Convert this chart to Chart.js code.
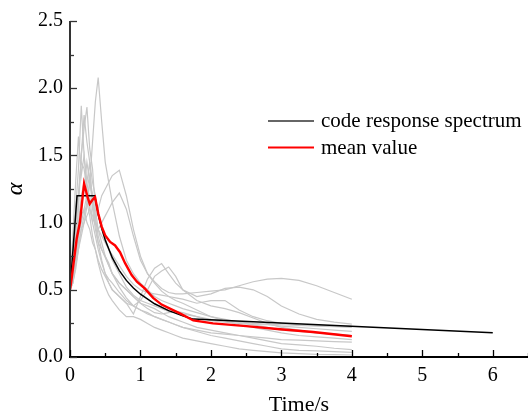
<!DOCTYPE html>
<html>
<head>
<meta charset="utf-8">
<script src="https://cdn.jsdelivr.net/npm/chart.js@4/dist/chart.umd.min.js"></script>
<style>
  html, body { margin: 0; padding: 0; background: #fff; }
  #c { display: block; }
</style>
</head>
<body>
<canvas id="c" width="528" height="414" style="width:528px;height:414px"></canvas>
<script>
// Periods (s) at which the individual record spectra are sampled
const periods = [0, 0.04, 0.08, 0.12, 0.16, 0.2, 0.24, 0.28, 0.32, 0.36, 0.4, 0.45, 0.5, 0.55, 0.6,
  0.7, 0.8, 0.9, 1.0, 1.1, 1.2, 1.3, 1.4, 1.5, 1.6, 1.8, 2.0, 2.2, 2.4, 2.6, 2.8, 3.0, 3.25, 3.5, 3.75, 4.0];

// Dynamic amplification factor of each selected ground-motion record
const record01 = [0.5,0.55,0.68,0.8,0.9,1.0,1.12,1.3,1.6,1.9,2.08,1.75,1.45,1.3,1.15,0.9,0.72,0.62,0.55,0.5,0.45,0.42,0.4,0.38,0.36,0.33,0.3,0.28,0.26,0.24,0.22,0.2,0.19,0.18,0.17,0.16];
const record02 = [0.5,0.75,1.1,1.4,1.87,1.5,1.3,1.45,1.1,0.95,0.85,0.8,0.75,0.7,0.62,0.55,0.5,0.45,0.4,0.38,0.36,0.33,0.3,0.28,0.26,0.22,0.2,0.18,0.16,0.14,0.12,0.1,0.09,0.08,0.065,0.055];
const record03 = [0.5,0.6,0.95,1.2,1.5,1.7,1.86,1.55,1.4,1.1,0.95,0.85,0.75,0.68,0.62,0.55,0.5,0.45,0.4,0.36,0.33,0.32,0.33,0.34,0.33,0.3,0.27,0.26,0.25,0.24,0.24,0.23,0.22,0.21,0.2,0.19];
const record04 = [0.5,0.9,1.3,1.64,1.35,1.5,1.25,1.2,1.0,0.9,0.8,0.7,0.62,0.58,0.55,0.48,0.42,0.38,0.35,0.32,0.3,0.28,0.26,0.24,0.22,0.19,0.16,0.14,0.12,0.1,0.08,0.06,0.05,0.045,0.04,0.035];
const record05 = [0.5,0.65,0.85,1.1,1.5,1.8,1.6,1.45,1.3,1.2,1.05,0.95,0.88,0.8,0.72,0.62,0.52,0.46,0.42,0.4,0.38,0.36,0.34,0.33,0.32,0.3,0.28,0.27,0.26,0.25,0.245,0.24,0.235,0.23,0.225,0.22];
const record06 = [0.5,0.6,0.75,0.9,1.0,1.1,1.2,1.1,1.0,1.05,1.1,1.2,1.25,1.3,1.35,1.39,1.2,0.95,0.75,0.62,0.55,0.49,0.45,0.42,0.4,0.35,0.3,0.27,0.24,0.22,0.2,0.18,0.16,0.15,0.14,0.13];
const record07 = [0.5,0.55,0.7,0.85,0.95,1.0,1.05,1.1,1.05,1.0,0.95,1.0,1.05,1.1,1.15,1.22,1.1,0.9,0.72,0.62,0.56,0.51,0.48,0.47,0.47,0.48,0.49,0.5,0.53,0.56,0.58,0.585,0.57,0.53,0.48,0.43];
const record08 = [0.5,0.6,0.75,0.9,1.05,1.1,1.0,0.95,0.85,0.8,0.72,0.65,0.6,0.55,0.5,0.45,0.4,0.32,0.45,0.58,0.66,0.695,0.62,0.55,0.5,0.45,0.47,0.51,0.52,0.5,0.45,0.38,0.32,0.28,0.26,0.245];
const record09 = [0.5,0.55,0.65,0.8,0.95,1.05,1.15,1.3,1.2,1.0,0.85,0.72,0.62,0.55,0.5,0.45,0.4,0.38,0.42,0.5,0.6,0.64,0.67,0.6,0.5,0.42,0.38,0.36,0.33,0.29,0.25,0.22,0.2,0.18,0.17,0.16];
const record10 = [0.5,0.6,0.8,1.0,1.2,1.3,1.15,1.05,0.9,0.8,0.7,0.6,0.52,0.46,0.42,0.35,0.3,0.3,0.28,0.25,0.22,0.2,0.18,0.16,0.14,0.12,0.1,0.08,0.06,0.05,0.04,0.03,0.025,0.02,0.018,0.015];
const record11 = [0.5,0.7,0.95,1.2,1.45,1.4,1.25,1.35,1.2,1.05,0.9,0.8,0.74,0.68,0.62,0.52,0.44,0.38,0.35,0.33,0.3,0.28,0.26,0.24,0.22,0.2,0.18,0.17,0.16,0.15,0.14,0.13,0.125,0.12,0.115,0.11];
const record12 = [0.5,0.58,0.72,0.9,1.1,1.25,1.45,1.3,1.15,1.0,0.95,0.9,0.85,0.8,0.76,0.68,0.6,0.54,0.5,0.48,0.47,0.46,0.45,0.44,0.43,0.4,0.42,0.42,0.35,0.3,0.27,0.25,0.24,0.235,0.23,0.23];
const records = [record01, record02, record03, record04, record05, record06,
  record07, record08, record09, record10, record11, record12];

// Mean spectrum of the records
const meanPeriods = [0, 0.02, 0.095, 0.14, 0.165, 0.2, 0.22, 0.25, 0.28, 0.32, 0.355, 0.4, 0.45, 0.5, 0.57,
  0.64, 0.71, 0.78, 0.875, 0.95, 1.06, 1.18, 1.3, 1.47, 1.56, 1.75, 2.03, 2.5, 2.98, 3.45, 4.0];
const meanValues = [0.5, 0.57, 0.88, 1.0, 1.12, 1.29, 1.25, 1.19, 1.14, 1.17, 1.19, 1.07, 0.97, 0.905, 0.856,
  0.83, 0.78, 0.7, 0.61, 0.56, 0.51, 0.44, 0.39, 0.347, 0.325, 0.272, 0.25, 0.23, 0.206, 0.186, 0.154];

// Design (code) response spectrum
const codePeriods = [0, 0.1, 0.35, 0.4, 0.45, 0.5, 0.6, 0.7, 0.8, 0.9, 1.0, 1.2, 1.4, 1.6, 1.75, 6.0];
const codeValues = [0.5, 1.2, 1.2, 1.064, 0.957, 0.87, 0.739, 0.643, 0.57, 0.513, 0.467, 0.396, 0.345, 0.306, 0.282, 0.18];

// Axis ticks
const xTicks = [0, 1, 2, 3, 4, 5, 6];
const yTicks = [0, 0.5, 1.0, 1.5, 2.0, 2.5];

const serif = "'Liberation Serif', 'Times New Roman', serif";

function toPoints(xs, ys) {
  return xs.map((x, i) => ({ x: x, y: ys[i] }));
}

const datasets = [
  { label: 'mean value', data: toPoints(meanPeriods, meanValues),
    borderColor: '#ff0000', borderWidth: 2.4, order: 0 },
  { label: 'code response spectrum', data: toPoints(codePeriods, codeValues),
    borderColor: '#000000', borderWidth: 1.5, order: 1 }
];
records.forEach((r, i) => {
  datasets.push({ label: 'record ' + (i + 1), data: toPoints(periods, r),
    borderColor: '#c8c8c8', borderWidth: 1.2, order: 2 });
});
datasets.forEach(d => {
  d.showLine = true; d.pointRadius = 0; d.pointHoverRadius = 0; d.fill = false; d.tension = 0;
});

// Inward major/minor tick marks and the two axis lines
const axisDecor = {
  id: 'axisDecor',
  afterDatasetsDraw(chart) {
    const { ctx, chartArea: a, scales: { x, y } } = chart;
    ctx.save();
    ctx.lineCap = 'butt';
    ctx.strokeStyle = '#333';
    ctx.lineWidth = 2;
    ctx.beginPath();
    ctx.moveTo(a.left, a.top);
    ctx.lineTo(a.left, a.bottom + 1);
    ctx.stroke();
    ctx.strokeStyle = '#000';
    ctx.beginPath();
    ctx.moveTo(a.left - 1, a.bottom);
    ctx.lineTo(a.right, a.bottom);
    ctx.stroke();

    ctx.lineWidth = 1.3;
    const xStep = xTicks[1] - xTicks[0];
    for (let v = x.min; v <= x.max + 1e-9; v += xStep / 2) {
      const major = xTicks.some(t => Math.abs(t - v) < 1e-9);
      const px = Math.round(x.getPixelForValue(v)) + 0.5;
      ctx.strokeStyle = '#000';
      ctx.beginPath();
      ctx.moveTo(px, a.bottom);
      ctx.lineTo(px, a.bottom - (major ? 7 : 4));
      ctx.stroke();
    }
    const yStep = yTicks[1] - yTicks[0];
    for (let v = y.min; v <= y.max + 1e-9; v += yStep / 2) {
      const major = yTicks.some(t => Math.abs(t - v) < 1e-9);
      const py = Math.round(y.getPixelForValue(v)) + 0.5;
      ctx.strokeStyle = '#333';
      ctx.beginPath();
      ctx.moveTo(a.left, py);
      ctx.lineTo(a.left + (major ? 7 : 4), py);
      ctx.stroke();
    }
    ctx.restore();
  }
};

// Legend for the code spectrum and the mean curve
const lineLegend = {
  id: 'lineLegend',
  afterDraw(chart) {
    const { ctx } = chart;
    const entries = chart.data.datasets.filter(d => d.label === 'code response spectrum' || d.label === 'mean value')
      .sort((p, q) => q.order - p.order);
    ctx.save();
    ctx.font = '21px ' + serif;
    ctx.textBaseline = 'alphabetic';
    ctx.textAlign = 'left';
    entries.forEach((d, i) => {
      const ly = 121 + i * 26.5;
      ctx.strokeStyle = d.label === 'mean value' ? d.borderColor : '#333';
      ctx.lineWidth = d.label === 'mean value' ? 2 : 1.5;
      ctx.beginPath();
      ctx.moveTo(268, ly);
      ctx.lineTo(314, ly);
      ctx.stroke();
      ctx.fillStyle = '#000';
      ctx.fillText(d.label, 321, ly + 6);
    });
    ctx.restore();
  }
};

new Chart(document.getElementById('c'), {
  type: 'scatter',
  data: { datasets: datasets },
  options: {
    responsive: false,
    animation: false,
    devicePixelRatio: 1,
    layout: { padding: { top: 21, right: 0, left: 0, bottom: 0 } },
    plugins: { legend: { display: false }, tooltip: { enabled: false } },
    scales: {
      x: {
        type: 'linear', min: 0, max: 6.5,
        afterFit(s) { s.height = 57; s.paddingLeft = 0; s.paddingRight = 0; },
        grid: { display: false, drawTicks: false },
        border: { display: false },
        ticks: {
          stepSize: 0.5, autoSkip: false, maxRotation: 0, padding: 7, color: '#000',
          font: { family: serif, size: 20 },
          callback: v => (xTicks.includes(v) ? String(v) : '')
        },
        title: {
          display: true, text: 'Time/s', color: '#000',
          font: { family: serif, size: 22, lineHeight: 1 }, padding: { top: 0, bottom: -2 }
        }
      },
      y: {
        type: 'linear', min: 0, max: 2.5,
        afterFit(s) { s.width = 70; s.paddingTop = 0; s.paddingBottom = 0; },
        grid: { display: false, drawTicks: false },
        border: { display: false },
        ticks: {
          stepSize: 0.5, autoSkip: false, padding: 7, color: '#000',
          font: { family: serif, size: 20 },
          callback: v => Number(v).toFixed(1)
        },
        title: {
          display: true, text: 'α', color: '#000',
          font: { family: serif, size: 24, style: 'italic', lineHeight: 1 }, padding: { top: 4, bottom: 0 }
        }
      }
    }
  },
  plugins: [axisDecor, lineLegend]
});
</script>
</body>
</html>
